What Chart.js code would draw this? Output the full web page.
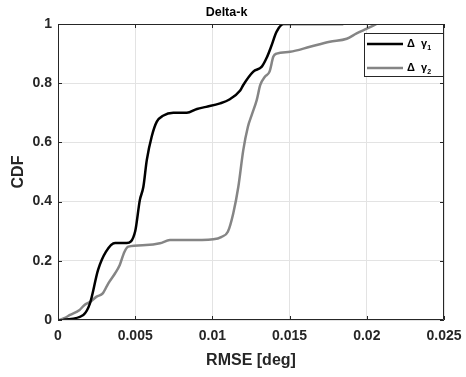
<!DOCTYPE html>
<html>
<head>
<meta charset="utf-8">
<script src="https://cdn.jsdelivr.net/npm/chart.js@4.4.1/dist/chart.umd.min.js"></script>
<style>
  html, body { margin: 0; padding: 0; background: #fff; }
  #wrap { width: 466px; height: 377px; }
</style>
</head>
<body>
<div id="wrap"><canvas id="cdfChart" width="466" height="377"></canvas></div>
<script>
// valores
const gamma1X = [0.00034, 0.00164, 0.00207, 0.0026, 0.0031, 0.0037, 0.00445, 0.005, 0.0053, 0.00553, 0.00575,
  0.00607, 0.0064, 0.0068, 0.00747, 0.00834, 0.009, 0.0096, 0.0105, 0.0111, 0.0118, 0.012, 0.01265, 0.0132,
  0.0135, 0.0138, 0.01416, 0.0146, 0.01848];
const gamma1Y = [0, 0.017, 0.056, 0.17, 0.23, 0.26, 0.26, 0.30, 0.405, 0.45, 0.54,
  0.62, 0.67, 0.69, 0.70, 0.70, 0.713, 0.72, 0.732, 0.745, 0.775, 0.794, 0.839, 0.856,
  0.884, 0.923, 0.974, 1.0, 1.0];

const gamma2X = [0.0001, 0.0004, 0.00078, 0.0014, 0.0017, 0.0021, 0.0025, 0.0029, 0.00326, 0.0037, 0.004,
  0.0043, 0.00455, 0.0057, 0.0066, 0.00725, 0.0083, 0.01006, 0.0106, 0.011, 0.01135, 0.01168, 0.012,
  0.0123, 0.01255, 0.01287, 0.0131, 0.0134, 0.0137, 0.01395, 0.01416, 0.01503, 0.01632, 0.0176,
  0.0187, 0.01934, 0.02, 0.02063];
const gamma2Y = [0, 0.006, 0.017, 0.034, 0.05, 0.062, 0.079, 0.09, 0.124, 0.158, 0.186,
  0.23, 0.248, 0.253, 0.259, 0.27, 0.27, 0.273, 0.281, 0.298, 0.36, 0.45, 0.574,
  0.653, 0.693, 0.743, 0.794, 0.822, 0.839, 0.89, 0.90, 0.906, 0.923, 0.94,
  0.95, 0.968, 0.984, 1.0];

const xTicks = ['0', '0.005', '0.01', '0.015', '0.02', '0.025'];
const yTicks = ['0', '0.2', '0.4', '0.6', '0.8', '1'];
const legendSub = ['1', '2'];

function pontos(xs, ys) {
  return xs.map((x, i) => ({ x: x, y: ys[i] }));
}

const corEixo = '#262626';
const fonte = 'Helvetica, "Liberation Sans", Arial, sans-serif';

// moldura, ticks para dentro e legenda no estilo matlab
const estiloMatlab = {
  id: 'estiloMatlab',
  afterDraw(chart) {
    const ctx = chart.ctx;
    const a = chart.chartArea;
    const sx = chart.scales.x;
    const sy = chart.scales.y;
    ctx.save();
    ctx.strokeStyle = corEixo;
    ctx.lineWidth = 1;
    ctx.beginPath();
    ctx.rect(a.left + 0.5, a.top + 0.5, a.right - a.left - 1, a.bottom - a.top - 1);
    ctx.stroke();
    ctx.beginPath();
    sx.ticks.forEach(t => {
      const px = Math.round(sx.getPixelForValue(t.value)) + 0.5;
      ctx.moveTo(px, a.bottom); ctx.lineTo(px, a.bottom - 4);
      ctx.moveTo(px, a.top); ctx.lineTo(px, a.top + 4);
    });
    sy.ticks.forEach(t => {
      const py = Math.round(sy.getPixelForValue(t.value)) + 0.5;
      ctx.moveTo(a.left, py); ctx.lineTo(a.left + 4, py);
      ctx.moveTo(a.right, py); ctx.lineTo(a.right - 4, py);
    });
    ctx.stroke();

    // legenda
    const bx = a.right - 80, by = a.top + 9, bw = 79, bh = 43;
    ctx.fillStyle = '#fff';
    ctx.fillRect(bx, by, bw, bh);
    ctx.strokeStyle = corEixo;
    ctx.strokeRect(bx + 0.5, by + 0.5, bw, bh);
    chart.data.datasets.forEach((ds, i) => {
      const ly = by + 11 + i * 24;
      ctx.strokeStyle = ds.borderColor;
      ctx.lineWidth = 2.5;
      ctx.beginPath();
      ctx.moveTo(bx + 3, ly); ctx.lineTo(bx + 39, ly);
      ctx.stroke();
      ctx.fillStyle = '#000';
      ctx.textBaseline = 'middle';
      ctx.font = 'bold 11px ' + fonte;
      ctx.fillText(ds.label, bx + 43, ly);
      const w = ctx.measureText(ds.label).width;
      ctx.font = 'bold 7px ' + fonte;
      ctx.fillText(legendSub[i], bx + 43 + w, ly + 4);
    });
    ctx.restore();
  }
};

function gerarGrafico() {
  const ctx = document.getElementById('cdfChart').getContext('2d');
  new Chart(ctx, {
    type: 'line',
    data: {
      datasets: [
        {
          label: 'Δ  γ',
          data: pontos(gamma1X, gamma1Y),
          borderColor: '#000000',
          borderWidth: 2.5,
          pointRadius: 0,
          cubicInterpolationMode: 'monotone',
          fill: false
        },
        {
          label: 'Δ  γ',
          data: pontos(gamma2X, gamma2Y),
          borderColor: '#858585',
          borderWidth: 2.5,
          pointRadius: 0,
          cubicInterpolationMode: 'monotone',
          fill: false
        }
      ]
    },
    plugins: [estiloMatlab],
    options: {
      responsive: false,
      animation: false,
      layout: { padding: { left: 9, right: 22, top: 0, bottom: 7 } },
      plugins: {
        legend: { display: false },
        tooltip: { enabled: false },
        title: {
          display: true,
          text: 'Delta-k',
          color: '#000',
          font: { family: fonte, size: 12.5, weight: 'bold' },
          padding: { top: 5, bottom: 4 }
        }
      },
      scales: {
        x: {
          type: 'linear',
          min: 0,
          max: 0.025,
          ticks: {
            stepSize: 0.005,
            color: corEixo,
            padding: 8,
            font: { family: fonte, size: 14, weight: 'bold' },
            callback: (v, i) => xTicks[i]
          },
          grid: { color: '#e3e3e3', drawTicks: false },
          border: { display: false },
          title: {
            display: true,
            text: 'RMSE [deg]',
            color: corEixo,
            font: { family: fonte, size: 16, weight: 'bold' },
            padding: { top: 1, bottom: 0 }
          },
          afterFit(scale) {
            scale.height = 50;
            scale.paddingLeft = 0;
            scale.paddingRight = 0;
          }
        },
        y: {
          min: 0,
          max: 1,
          ticks: {
            stepSize: 0.2,
            color: corEixo,
            padding: 6,
            font: { family: fonte, size: 14, weight: 'bold' },
            callback: (v, i) => yTicks[i]
          },
          grid: { color: '#e3e3e3', drawTicks: false },
          border: { display: false },
          title: {
            display: true,
            text: 'CDF',
            color: corEixo,
            font: { family: fonte, size: 16, weight: 'bold' },
            padding: { top: 0, bottom: 2 }
          },
          afterFit(scale) { scale.width = 49; }
        }
      }
    }
  });
}

window.onload = gerarGrafico;
</script>
</body>
</html>
